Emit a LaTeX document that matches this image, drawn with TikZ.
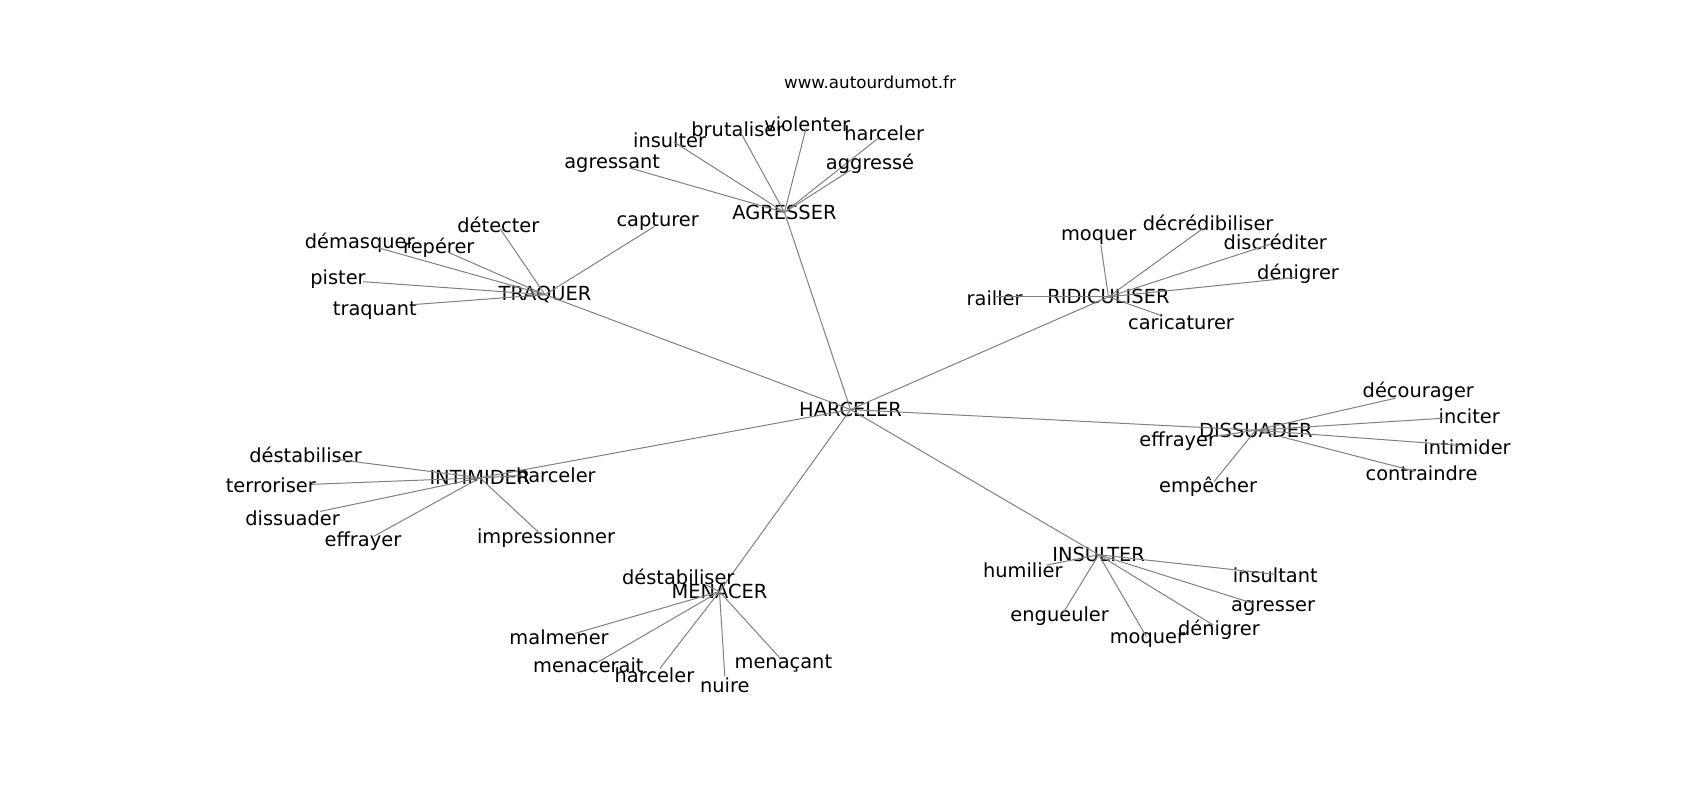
\documentclass[tikz,border=0pt]{standalone}
\usepackage{fontspec}
\setmainfont{DejaVu Sans}
\begin{document}
\begin{tikzpicture}[x=1.0835pt,y=-1.0835pt,
	every node/.style={inner sep=0pt,font=\fontsize{19.4}{22}\selectfont},
	edge/.style={draw=black!50,line width=1pt}]
	\useasboundingbox (0,0) rectangle (1569,738.4);
	
	\node[font=\fontsize{16.7}{19}\selectfont] (url) at (803,76) {www.autourdumot.fr};
	
	%centre
	\node (ha) at (785,378) {HARCELER};
	\foreach \n/\x/\y/\t in {ag/724/196/AGRESSER, tr/503/272/TRAQUER, ri/1023/274/RIDICULISER, di/1159/397/DISSUADER, in/1014/512/INSULTER, me/664/546/MENACER, it/443/441/INTIMIDER}{
		\node (\n) at (\x,\y) {\t};
		\draw[edge] (ha.center) -- (\n.center);
	}
	
	%agresser
	\foreach \n/\x/\y/\lx/\ly/\t in {1/581/155/565/151.5/agressant, 2/622/131/618/129/insulter, 3/684/123/681/119/brutaliser, 4/744/118/745/115/violenter, 5/810/128/816/123/harceler, 6/785/157/803/151.5/aggressé}{
		\coordinate (ag\n) at (\x,\y);
		\node (ag\n t) at (\lx,\ly) {\t};
		\draw[edge] (ag.center) -- (ag\n);
	}
	
	%traquer
	\foreach \n/\x/\y/\lx/\ly/\t in {1/604/209/607/205/capturer, 2/461.5/211/460/208/détecter, 3/414/233/405/229/repérer, 4/350/229/332/224/démasquer, 5/335/260/312/258/pister, 6/383/281/346/287/traquant}{
		\coordinate (tr\n) at (\x,\y);
		\node (tr\n t) at (\lx,\ly) {\t};
		\draw[edge] (tr.center) -- (tr\n);
	}
	
	%ridiculiser
	\foreach \n/\x/\y/\lx/\ly/\t in {1/919/274/918/275/railler, 2/1016/226/1014/219/moquer, 3/1110/211/1115/206/décrédibiliser, 4/1173.5/225/1177/223/discréditer, 5/1196/256/1198/253/dénigrer, 6/1071/291/1090/297/caricaturer}{
		\coordinate (ri\n) at (\x,\y);
		\node (ri\n t) at (\lx,\ly) {\t};
		\draw[edge] (ri.center) -- (ri\n);
	}
	
	%dissuader
	\foreach \n/\x/\y/\lx/\ly/\t in {1/1120/403/1087/407/effrayer, 2/1288/367.5/1309/362/décourager, 3/1332/386/1356/384/inciter, 4/1346.5/411/1354/413/intimider, 5/1306/435/1312/437/contraindre, 6/1120.5/444.5/1115/449/empêcher}{
		\coordinate (di\n) at (\x,\y);
		\node (di\n t) at (\lx,\ly) {\t};
		\draw[edge] (di.center) -- (di\n);
	}
	
	%insulter
	\foreach \n/\x/\y/\lx/\ly/\t in {1/966/521.5/944/526/humilier, 2/981/566/978/569/engueuler, 3/1058/587.5/1059/591/moquer, 4/1120/577/1125/581/dénigrer, 5/1157/557/1175/561/agresser, 6/1177/530/1177/531/insultant}{
		\coordinate (in\n) at (\x,\y);
		\node (in\n t) at (\lx,\ly) {\t};
		\draw[edge] (in.center) -- (in\n);
	}
	
	%menacer
	\foreach \n/\x/\y/\lx/\ly/\t in {1/652/540/626/532/déstabiliser, 2/531/584.5/516/588/malmener, 3/552/611/543/614/menacerait, 4/609/617/604/623/harceler, 5/669/624.5/669/632/nuire, 6/720/607.5/723/612/menaçant}{
		\coordinate (me\n) at (\x,\y);
		\node (me\n t) at (\lx,\ly) {\t};
		\draw[edge] (me.center) -- (me\n);
	}
	
	%intimider
	\foreach \n/\x/\y/\lx/\ly/\t in {1/311/424/282/420/déstabiliser, 2/288/447/250/448/terroriser, 3/295.5/472/270/478/dissuader, 4/345/495/335/499/effrayer, 5/500/494/504/497/impressionner, 6/482/439/513/439/harceler}{
		\coordinate (it\n) at (\x,\y);
		\node (it\n t) at (\lx,\ly) {\t};
		\draw[edge] (it.center) -- (it\n);
	}
\end{tikzpicture}
\end{document}
